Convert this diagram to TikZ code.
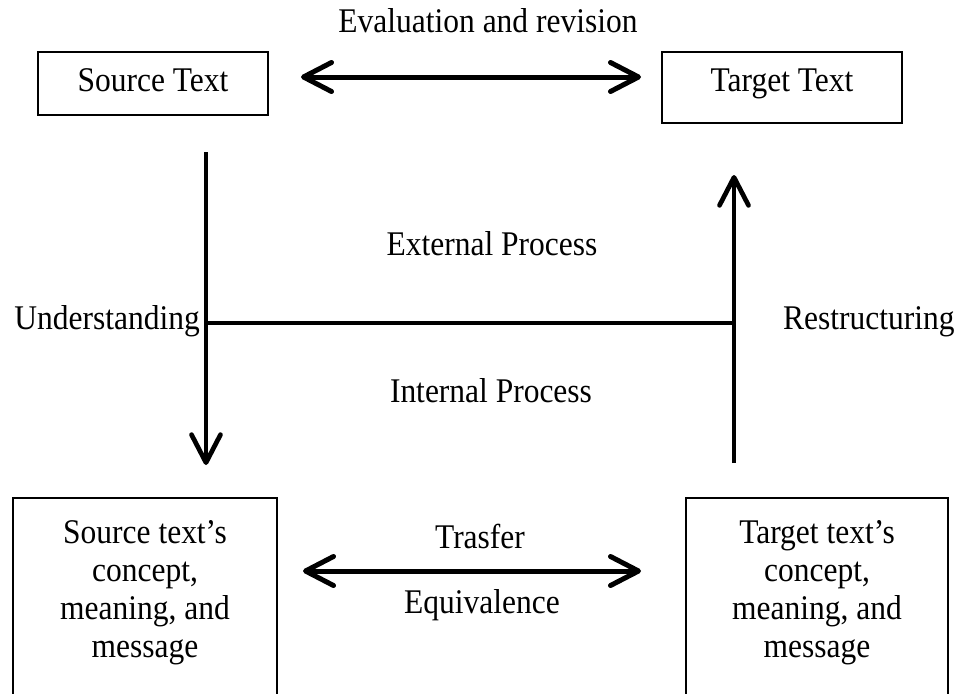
\documentclass[tikz,border=0pt]{standalone}
\usepackage{fontspec}
\setmainfont[FakeStretch=0.91]{Liberation Serif}
\usetikzlibrary{arrows.meta}
\begin{document}
\begin{tikzpicture}[x=1pt,y=-1pt,
  every node/.style={font=\fontsize{34.6}{38}\selectfont, inner sep=0pt},
  box/.style={draw, line width=2pt},
  lbl/.style={anchor=base},
  >={Straight Barb[length=28pt,width=29pt,round]},
  dbl/.style={line width=5pt, <->},
  vline/.style={line width=4.7pt, ->},
  hline/.style={line width=4pt}]
\useasboundingbox (0,0) rectangle (963,693);
\clip (0,0) rectangle (963,693);

% top boxes
\node[box, minimum width=230pt, minimum height=63pt, text height=20pt, text depth=3pt] (src) at (153,83.5) {Source Text};
\node[box, minimum width=240pt, minimum height=71pt, text height=16pt, text depth=7pt] (tgt) at (782,87.5) {Target Text};

% bottom boxes
\node[box, minimum width=264pt, minimum height=240pt, anchor=north] (sbox) at (145,497) {};
\node[anchor=north, align=center] (stext) at (145,520) {Source text’s\\concept,\\meaning, and\\message};
\node[box, minimum width=262pt, minimum height=240pt, anchor=north] (tbox) at (817,497) {};
\node[anchor=north, align=center] (ttext) at (817,520) {Target text’s\\concept,\\meaning, and\\message};

% labels
\node[lbl] (eval) at (488,33) {Evaluation and revision};
\node[lbl] (ext) at (492,255) {External Process};
\node[lbl] (int) at (491,402) {Internal Process};
\node[lbl, anchor=base east] (und) at (200,329) {Understanding};
\node[lbl, anchor=base west] (res) at (783,329) {Restructuring};
\node[lbl] (trans) at (480,548) {Trasfer};
\node[lbl] (equiv) at (482,613) {Equivalence};

% coordinates of the process lines
\coordinate (lt) at (206,152);
\coordinate (lb) at (206,465);
\coordinate (rb) at (734,463);
\coordinate (rt) at (734,175);
\coordinate (hl) at (206,323);
\coordinate (hr) at (734,323);

% connectors
\draw[dbl] ([shift={(32,-6.5)}]src.east) -- ([shift={(-20,-10.5)}]tgt.west);
\draw[dbl] ([shift={(25,-47)}]sbox.east) -- ([shift={(-44,-47)}]tbox.west);
\draw[vline] (lt) -- (lb);
\draw[vline] (rb) -- (rt);
\draw[hline] (hl) -- (hr);
\end{tikzpicture}
\end{document}
